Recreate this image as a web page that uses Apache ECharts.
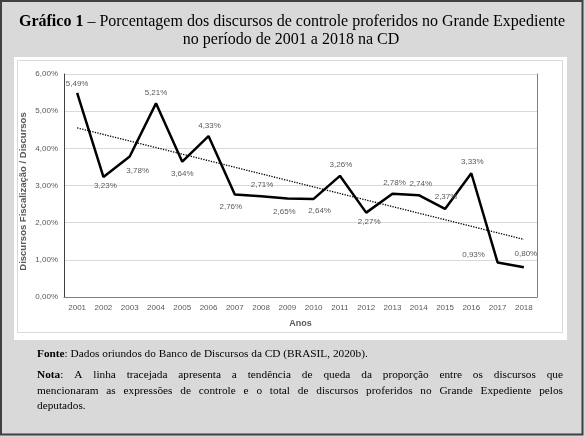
<!DOCTYPE html>
<html><head><meta charset="utf-8">
<script src="https://cdn.jsdelivr.net/npm/echarts@6/dist/echarts.min.js"></script>
<style>html,body{margin:0;padding:0;background:#d9d9d9}#c{width:585px;height:437px}</style>
</head><body><div id="c"></div>
<script>
// ---- data ----
const years = ['2001','2002','2003','2004','2005','2006','2007','2008','2009','2010','2011','2012','2013','2014','2015','2016','2017','2018'];
const shares = [5.49,3.23,3.78,5.21,3.64,4.33,2.76,2.71,2.65,2.64,3.26,2.27,2.78,2.74,2.37,3.33,0.93,0.80];
const trendYears = ['2001','2018'];
const trendValues = [4.55,1.55];
const yMin = 0, yMax = 6, yStep = 1;
const titleBold = 'Gráfico 1';
const titleRest = ' – Porcentagem dos discursos de controle proferidos no Grande Expediente';
const titleLine2 = 'no período de 2001 a 2018 na CD';
const yAxisTitle = 'Discursos Fiscalização / Discursos';
const xAxisTitle = 'Anos';
const sourceLabel = 'Fonte';
const sourceText = ': Dados oriundos do Banco de Discursos da CD (BRASIL, 2020b).';
const noteLabel = 'Nota';
const noteLines = [
  ': A linha tracejada apresenta a tendência de queda da proporção entre os discursos que',
  'mencionaram as expressões de controle e o total de discursos proferidos no Grande Expediente pelos',
  'deputados.'
];

// ---- layout / style (not data) ----
const labelOffsets = [[0,-9],[2,9],[8,14],[0,-11],[0,12],[1,-10.5],[-4,12],[1,-11],[-3,13],[6,12],[1,-11],[3,9],[2,-11],[2,-11],[1,-12],[1,-11],[-24,-8],[2,-13]];
const fmt = v => v.toFixed(2).replace('.', ',') + '%';
const sans = '"Liberation Sans", Arial, sans-serif';
const serif = '"Liberation Serif", "Times New Roman", serif';
const gray = '#595959';

const ctx = document.createElement('canvas').getContext('2d');
function mw(t, size, weight){ ctx.font = (weight||'normal') + ' ' + size + 'px ' + serif; return ctx.measureText(t).width; }

const FS = 11.3;
const TS = 16;
function lineElems(text, prefixBold, x0, x1, y, justify){
  const words = text.split(' ').filter(w => w.length);
  const toks = words.map((w,i) => {
    if (i === 0 && prefixBold) {
      return {txt: '{b|' + prefixBold + '}' + w, w: mw(prefixBold, FS, 'bold') + mw(w, FS)};
    }
    return {txt: w, w: mw(w, FS)};
  });
  const total = toks.reduce((s,t)=>s+t.w,0);
  const gap = justify && toks.length>1 ? (x1-x0-total)/(toks.length-1) : mw(' ', FS);
  let x = x0; const out = [];
  toks.forEach(t => {
    out.push({type:'text', x: x, y: y, silent:true, style:{text:t.txt, fontSize:FS, fontFamily:serif, fill:'#000', verticalAlign:'middle', align:'left', rich:{b:{fontWeight:'bold', fontSize:FS, fontFamily:serif, fill:'#000'}}}});
    x += t.w + gap;
  });
  return out;
}

function sourceElems(x0, y){
  return [{type:'text', x:x0, y:y, silent:true, style:{text:'{b|'+sourceLabel+'}'+sourceText, fontSize:FS, fontFamily:serif, fill:'#000', verticalAlign:'middle', align:'left', rich:{b:{fontWeight:'bold', fontSize:FS, fontFamily:serif, fill:'#000'}}}}];
}

const graphics = [
  {type:'rect', silent:true, z:-10, shape:{x:1, y:1, width:581.5, height:433.5}, style:{fill:'#d9d9d9', stroke:'#404040', lineWidth:2}},
  {type:'rect', silent:true, z:-9, shape:{x:14, y:57, width:553, height:283}, style:{fill:'#fff'}},
  {type:'rect', silent:true, z:-8, shape:{x:17.5, y:60.5, width:545, height:272}, style:{fill:'none', stroke:'#d9d9d9', lineWidth:1}},
  {type:'text', x:292, y:22, silent:true, style:{text:'{b|'+titleBold+'}'+titleRest, fontSize:TS, fontFamily:serif, fill:'#000', align:'center', verticalAlign:'middle', rich:{b:{fontWeight:'bold', fontSize:TS, fontFamily:serif, fill:'#000'}}}},
  {type:'text', x:291, y:40, silent:true, style:{text:titleLine2, fontSize:TS, fontFamily:serif, fill:'#000', align:'center', verticalAlign:'middle'}},
  ...sourceElems(37, 354),
  ...lineElems(noteLines[0], noteLabel, 37, 563, 375, true),
  ...lineElems(noteLines[1], null, 37, 563, 391, true),
  ...lineElems(noteLines[2], null, 37, 563, 406, false)
];

const chart = echarts.init(document.getElementById('c'), null, {renderer:'canvas'});
chart.setOption({
  animation: false,
  backgroundColor: '#d9d9d9',
  graphic: graphics,
  grid: {left:64, right:48, top:74, bottom:140, containLabel:false},
  xAxis: [{
    type:'category', data: years, boundaryGap:true,
    axisLine:{show:false}, axisTick:{show:false},
    axisLabel:{color:gray, fontSize:8, fontFamily:sans, margin:7},
    name: xAxisTitle, nameLocation:'middle', nameGap:22,
    nameTextStyle:{color:gray, fontSize:9, fontWeight:'bold', fontFamily:sans}
  },{
    type:'category', data: years, position:'top', boundaryGap:true,
    axisLine:{show:true, lineStyle:{color:'#7f7f7f', width:1}}, axisTick:{show:false}, axisLabel:{show:false}
  }],
  yAxis: [{
    type:'value', min:yMin, max:yMax, interval:yStep,
    axisLine:{show:true, lineStyle:{color:'#404040', width:1}}, axisTick:{show:false},
    axisLabel:{color:gray, fontSize:8, fontFamily:sans, margin:6, formatter: v => fmt(v)},
    splitLine:{show:true, lineStyle:{color:'#d9d9d9', width:1}},
    name: yAxisTitle, nameLocation:'middle', nameGap:36, nameMoveOverlap:false,
    nameTextStyle:{color:gray, fontSize:9.5, fontWeight:'bold', fontFamily:sans, padding:[0,12,0,0]}
  },{
    type:'value', min:yMin, max:yMax, interval:yStep, position:'right',
    axisLine:{show:true, lineStyle:{color:'#7f7f7f', width:1}}, axisTick:{show:false}, axisLabel:{show:false}, splitLine:{show:false}
  }],
  series: [{
    type:'line', name:'trend', xAxisIndex:0, yAxisIndex:0, z:2,
    data: trendYears.map((y,i) => [y, trendValues[i]]),
    showSymbol:false, symbol:'none',
    lineStyle:{color:'#000', width:1.3, type:'dotted'}
  },{
    type:'line', name:'share', xAxisIndex:0, yAxisIndex:0, z:3,
    data: shares,
    symbol:'circle', symbolSize:0, showSymbol:true,
    itemStyle:{color:'#000'},
    lineStyle:{color:'#000', width:2.5},
    label:{show:true, position:'inside', color:gray, fontSize:8, fontFamily:sans, formatter: p => fmt(p.value)},
    labelLayout: p => ({dx: labelOffsets[p.dataIndex][0], dy: labelOffsets[p.dataIndex][1]})
  }]
});
</script></body></html>
